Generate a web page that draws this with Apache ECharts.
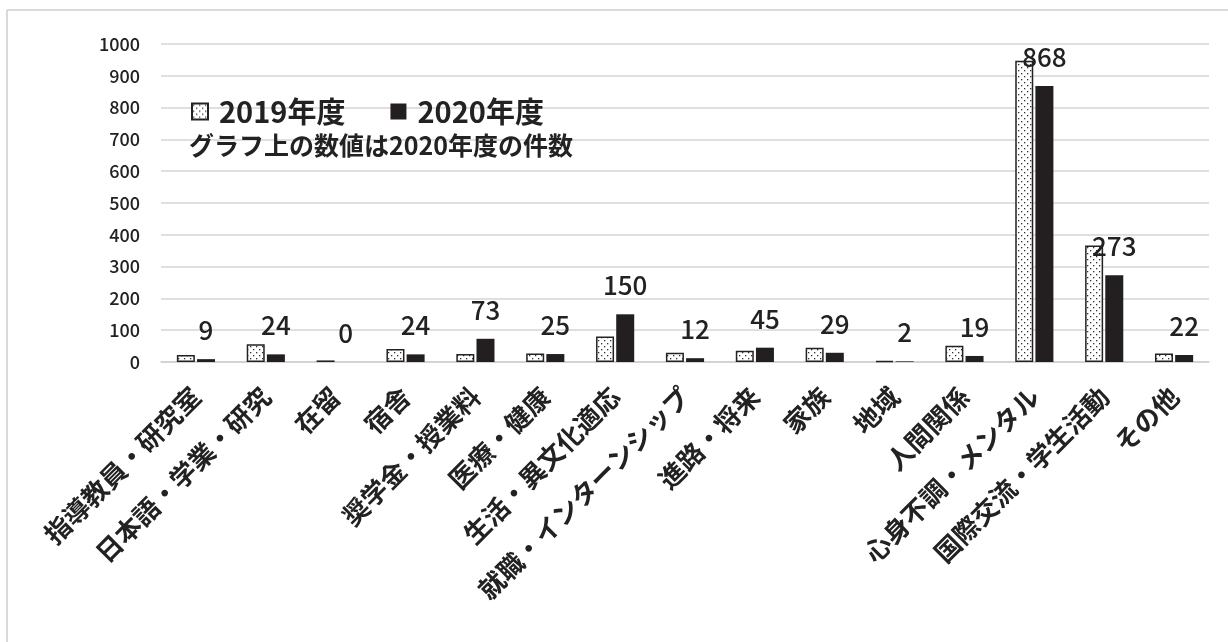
<!DOCTYPE html>
<html>
<head>
<meta charset="utf-8">
<script src="https://cdn.jsdelivr.net/npm/echarts@6/dist/echarts.min.js"></script>
<style>
html,body{margin:0;padding:0;background:#fff;}
#chart{width:1228px;height:642px;}
</style>
</head>
<body>
<div id="chart"></div>
<script>
const categories = ['指導教員・研究室','日本語・学業・研究','在留','宿舎','奨学金・授業料','医療・健康','生活・異文化適応','就職・インターンシップ','進路・将来','家族','地域','人間関係','心身不調・メンタル','国際交流・学生活動','その他'];
const values2019 = [22, 56, 5, 41, 25, 27, 80, 29, 35, 45, 3, 51, 947, 366, 27];
const values2020 = [9, 24, 0, 24, 73, 25, 150, 12, 45, 29, 2, 19, 868, 273, 22];
const seriesNames = ['2019年度', '2020年度'];
const yTicks = {min: 0, max: 1000, interval: 100};
const noteText = 'グラフ上の数値は2020年度の件数';

const FONT = '"Noto Sans CJK JP", "Noto Sans", sans-serif';

function dotPattern() {
  const c = document.createElement('canvas');
  c.width = 6; c.height = 6;
  const ctx = c.getContext('2d');
  ctx.fillStyle = '#ffffff';
  ctx.fillRect(0, 0, 6, 6);
  ctx.fillStyle = '#333333';
  ctx.fillRect(1, 1, 1.3, 1.3);
  ctx.fillRect(4, 4, 1.3, 1.3);
  return c;
}

const chart = echarts.init(document.getElementById('chart'), null, {renderer: 'canvas'});
chart.setOption({
  backgroundColor: '#ffffff',
  animation: false,
  textStyle: {fontFamily: FONT},
  title: {
    text: noteText,
    left: 184,
    top: 128,
    textStyle: {fontSize: 25, fontWeight: 'bold', color: '#222', fontFamily: FONT}
  },
  legend: {
    left: 186,
    top: 92,
    itemWidth: 16,
    itemHeight: 16,
    itemGap: 45,
    icon: 'rect',
    textStyle: {fontSize: 29, fontWeight: 'bold', color: '#222', fontFamily: FONT, padding: [0, 0, 0, 6]},
    data: seriesNames
  },
  grid: {left: 161, right: 19, top: 44, bottom: 280, containLabel: false},
  xAxis: {
    type: 'category',
    data: categories,
    axisLine: {lineStyle: {color: '#d0d0d0', width: 1.5}},
    axisTick: {show: false},
    axisLabel: {
      interval: 0,
      rotate: 45,
      margin: 30,
      fontSize: 26,
      fontWeight: 'bold',
      color: '#222',
      fontFamily: FONT
    }
  },
  yAxis: {
    type: 'value',
    min: yTicks.min,
    max: yTicks.max,
    interval: yTicks.interval,
    axisLine: {show: false},
    axisTick: {show: false},
    axisLabel: {fontSize: 18, fontWeight: 500, color: '#222', margin: 21, fontFamily: FONT, formatter: function (v) { return String(v); }},
    splitLine: {lineStyle: {color: '#d4d4d4', width: 1.5}}
  },
  series: [
    {
      name: seriesNames[0],
      type: 'bar',
      data: values2019,
      barWidth: 18,
      barGap: '12%',
      itemStyle: {
        color: {image: dotPattern(), repeat: 'repeat'},
        borderColor: '#222',
        borderWidth: 1.5
      }
    },
    {
      name: seriesNames[1],
      type: 'bar',
      data: values2020,
      barWidth: 18,
      itemStyle: {color: '#231f20'},
      label: {
        show: true,
        position: 'top',
        distance: 16,
        fontSize: 26,
        fontWeight: 500,
        color: '#222',
        fontFamily: FONT
      }
    }
  ],
  graphic: [
    {type: 'line', shape: {x1: 7, y1: 10, x2: 1228, y2: 10}, style: {stroke: '#cccccc', lineWidth: 1.5}, silent: true},
    {type: 'line', shape: {x1: 7, y1: 10, x2: 7, y2: 642}, style: {stroke: '#cccccc', lineWidth: 1.5}, silent: true}
  ]
});
</script>
</body>
</html>
